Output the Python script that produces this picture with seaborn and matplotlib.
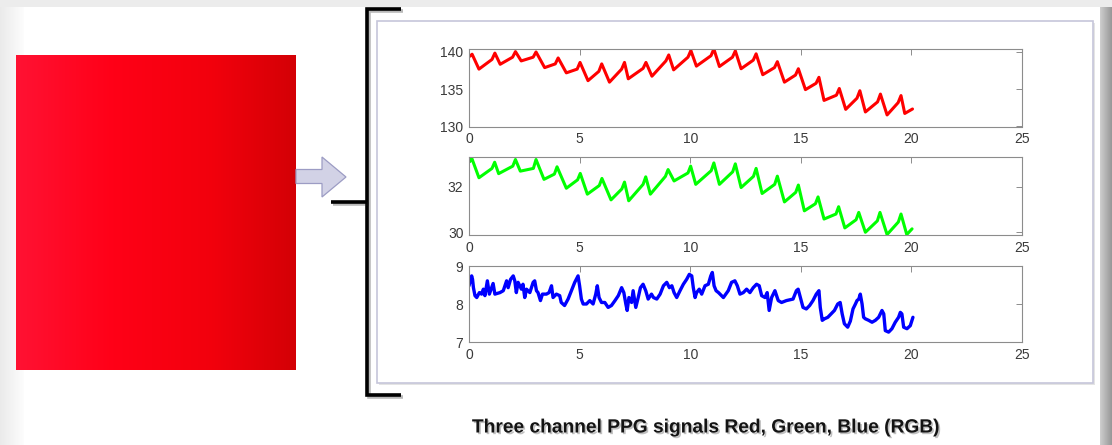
import numpy as np
import matplotlib
matplotlib.use("Agg")
import matplotlib.pyplot as plt
import seaborn as sns
from matplotlib.patches import Polygon, Rectangle
from matplotlib import patheffects as pe

# ---------------- data: three PPG channels (time in s) ----------------
# Red channel: per-beat shoulder (foot of upstroke), systolic peak and trough
red_start = (0.0, 139.4)
red_shoulder_t = [0.05, 1.04, 1.97, 2.90, 3.90, 4.89, 5.87, 6.90, 7.87, 8.90, 9.90,
                  10.94, 11.91, 12.85, 13.81, 14.76, 15.69, 16.61, 17.54, 18.47, 19.40]
red_shoulder_v = [139.45, 139.0, 139.3, 139.3, 138.4, 137.7, 137.4, 137.7, 137.8, 138.8, 139.3,
                  139.5, 139.3, 138.9, 137.9, 136.9, 135.8, 134.2, 133.8, 133.3, 133.2]
red_peak_t = [0.14, 1.17, 2.10, 3.03, 4.03, 5.02, 6.00, 7.03, 8.00, 9.03, 10.03,
              11.07, 12.04, 12.98, 13.94, 14.89, 15.82, 16.74, 17.67, 18.60, 19.53]
red_peak_v = [139.7, 139.85, 140.05, 140.0, 139.2, 138.6, 138.4, 138.6, 138.6, 139.6, 140.2,
              140.4, 140.15, 139.75, 138.7, 137.75, 136.6, 135.1, 134.8, 134.35, 134.15]
red_trough_t = [0.45, 1.41, 2.36, 3.42, 4.40, 5.38, 6.35, 7.20, 8.27, 9.25, 10.28,
                11.32, 12.30, 13.28, 14.26, 15.21, 16.05, 17.03, 17.92, 18.90, 19.70]
red_trough_v = [137.7, 138.35, 138.8, 137.9, 137.2, 136.15, 135.95, 136.4, 136.75, 137.6, 138.1,
                138.05, 137.75, 136.95, 135.95, 134.95, 133.5, 132.3, 131.95, 131.55, 131.75]
red_end = (20.05, 132.35)

# Green channel
green_start = (0.0, 33.1)
green_shoulder_t = [0.04, 1.04, 1.98, 2.91, 3.86, 4.91, 5.89, 6.91, 7.87, 8.88, 9.90,
                    10.95, 11.92, 12.86, 13.82, 14.77, 15.66, 16.59, 17.50, 18.46, 19.41]
green_shoulder_v = [33.1, 32.8, 32.9, 32.8, 32.55, 32.3, 32.05, 31.9, 32.1, 32.45, 32.6,
                    32.7, 32.65, 32.45, 32.1, 31.75, 31.25, 30.8, 30.55, 30.5, 30.45]
green_peak_t = [0.12, 1.16, 2.10, 3.03, 3.98, 5.03, 6.01, 7.03, 7.99, 9.00, 10.02,
                11.07, 12.04, 12.98, 13.94, 14.89, 15.78, 16.71, 17.62, 18.58, 19.53]
green_peak_v = [33.26, 33.07, 33.19, 33.19, 32.87, 32.58, 32.36, 32.2, 32.43, 32.75, 32.9,
                33.04, 33.0, 32.8, 32.46, 32.07, 31.55, 31.12, 30.87, 30.87, 30.8]
green_trough_t = [0.45, 1.34, 2.32, 3.39, 4.40, 5.35, 6.42, 7.22, 8.20, 9.27, 10.25,
                  11.32, 12.30, 13.25, 14.26, 15.16, 16.05, 16.99, 17.92, 18.90, 19.79]
green_trough_v = [32.39, 32.57, 32.68, 32.32, 31.93, 31.67, 31.42, 31.38, 31.67, 32.25, 32.1,
                  32.1, 31.96, 31.7, 31.33, 30.94, 30.58, 30.19, 30.0, 29.9, 29.9]
green_end = (20.03, 30.15)

# Blue channel: traced samples (t, value)
blue_samples = [
    (0.00, 8.48), (0.05, 8.60), (0.12, 8.74), (0.16, 8.65), (0.20, 8.43), (0.27, 8.22),
    (0.35, 8.17), (0.47, 8.30), (0.57, 8.26), (0.65, 8.39), (0.72, 8.22), (0.83, 8.61),
    (0.92, 8.26), (1.02, 8.43), (1.09, 8.54), (1.17, 8.26), (1.40, 8.30), (1.55, 8.35),
    (1.70, 8.61), (1.77, 8.43), (1.88, 8.65), (2.00, 8.74), (2.07, 8.61), (2.14, 8.30),
    (2.22, 8.57), (2.37, 8.39), (2.44, 8.52), (2.52, 8.17), (2.60, 8.39), (2.75, 8.30),
    (2.90, 8.57), (2.97, 8.61), (3.05, 8.35), (3.12, 8.30), (3.23, 8.09), (3.32, 8.26),
    (3.50, 8.26), (3.62, 8.30), (3.73, 8.48), (3.80, 8.17), (3.95, 8.26), (4.10, 8.22),
    (4.17, 8.04), (4.32, 7.96), (4.48, 8.13), (4.63, 8.35), (4.78, 8.57), (4.93, 8.74),
    (5.00, 8.48), (5.08, 8.13), (5.16, 8.00), (5.31, 8.00), (5.46, 8.09), (5.61, 8.00),
    (5.73, 8.26), (5.80, 8.48), (5.88, 8.17), (5.99, 8.04), (6.14, 8.04), (6.29, 7.91),
    (6.44, 7.96), (6.60, 8.09), (6.75, 8.22), (6.90, 8.43), (7.00, 8.30), (7.09, 8.00),
    (7.15, 7.83), (7.23, 8.17), (7.35, 8.04), (7.42, 8.35), (7.54, 7.91), (7.65, 8.17),
    (7.75, 8.43), (7.87, 8.52), (7.99, 8.35), (8.10, 8.13), (8.25, 8.26), (8.34, 8.17),
    (8.49, 8.13), (8.64, 8.26), (8.79, 8.48), (8.94, 8.57), (9.06, 8.43), (9.17, 8.48),
    (9.27, 8.30), (9.39, 8.17), (9.54, 8.35), (9.69, 8.52), (9.84, 8.65), (9.96, 8.78),
    (10.07, 8.74), (10.14, 8.43), (10.22, 8.17), (10.29, 8.30), (10.41, 8.39), (10.52, 8.26),
    (10.67, 8.48), (10.82, 8.52), (10.93, 8.74), (11.00, 8.83), (11.08, 8.48), (11.17, 8.35),
    (11.28, 8.30), (11.50, 8.17), (11.72, 8.35), (11.87, 8.57), (12.02, 8.61), (12.13, 8.48),
    (12.25, 8.26), (12.40, 8.30), (12.55, 8.39), (12.70, 8.30), (12.85, 8.43), (13.00, 8.52),
    (13.12, 8.48), (13.23, 8.22), (13.38, 8.17), (13.48, 8.30), (13.57, 7.83), (13.68, 8.17),
    (13.83, 8.35), (13.98, 8.09), (14.13, 8.04), (14.35, 8.09), (14.65, 8.13), (14.80, 8.35),
    (14.88, 8.39), (14.98, 8.17), (15.10, 7.91), (15.25, 7.87), (15.40, 7.96), (15.55, 8.09),
    (15.70, 8.26), (15.82, 8.35), (15.88, 7.91), (15.97, 7.57), (16.07, 7.61), (16.22, 7.65),
    (16.37, 7.74), (16.52, 7.83), (16.67, 8.00), (16.78, 8.04), (16.87, 7.74), (16.97, 7.48),
    (17.12, 7.39), (17.24, 7.55), (17.36, 7.87), (17.47, 8.00), (17.54, 8.09), (17.62, 8.13),
    (17.69, 8.26), (17.77, 8.00), (17.84, 7.65), (17.92, 7.61), (18.07, 7.57), (18.22, 7.52),
    (18.37, 7.57), (18.52, 7.65), (18.67, 7.83), (18.75, 7.74), (18.82, 7.30), (18.97, 7.26),
    (19.12, 7.35), (19.27, 7.52), (19.42, 7.65), (19.50, 7.78), (19.57, 7.74), (19.65, 7.39),
    (19.80, 7.35), (19.95, 7.43), (20.07, 7.65),
]

x_ticks = [0, 5, 10, 15, 20, 25]
red_yticks = [130, 135, 140]
green_yticks = [30, 32]
blue_yticks = [7, 8, 9]
title_text = "Three channel PPG signals Red, Green, Blue (RGB)"


def beat_trace(start, sh_t, sh_v, pk_t, pk_v, tr_t, tr_v, end):
    """Order shoulder -> peak -> trough for every beat into one polyline."""
    t = np.column_stack([sh_t, pk_t, tr_t]).ravel()
    v = np.column_stack([sh_v, pk_v, tr_v]).ravel()
    t = np.concatenate([[start[0]], t, [end[0]]])
    v = np.concatenate([[start[1]], v, [end[1]]])
    return t, v


red_t, red_v = beat_trace(red_start, red_shoulder_t, red_shoulder_v, red_peak_t,
                          red_peak_v, red_trough_t, red_trough_v, red_end)
green_t, green_v = beat_trace(green_start, green_shoulder_t, green_shoulder_v, green_peak_t,
                              green_peak_v, green_trough_t, green_trough_v, green_end)
blue_t = np.array([s[0] for s in blue_samples])
blue_v = np.array([s[1] for s in blue_samples])

# ---------------- figure ----------------
sns.set_theme(style="white")
plt.rcParams["font.family"] = ["Liberation Sans", "DejaVu Sans"]

W, H = 1112, 445
fig = plt.figure(figsize=(W / 100, H / 100), dpi=100)
fig.patch.set_facecolor("white")

# slide canvas in pixel units
bg = fig.add_axes([0, 0, 1, 1], zorder=0)
bg.set_xlim(0, W)
bg.set_ylim(H, 0)
bg.axis("off")

# slide frame: top strip, left and right shaded edges
bg.add_patch(Rectangle((0, 0), W, 7, color="#ececec", lw=0, zorder=1))
left_grad = np.linspace(0.92, 0.99, 24)[None, :, None] * np.ones((1, 1, 3))
bg.imshow(left_grad, extent=(0, 24, H, 7), aspect="auto", zorder=1)
right_grad = np.linspace(0.80, 0.60, 12)[None, :, None] * np.ones((1, 1, 3))
bg.imshow(right_grad, extent=(1100, W, H, 7), aspect="auto", zorder=1)

# red image tile with horizontal gradient
stops_x = [0.0, 0.35, 0.7, 1.0]
stops_c = np.array([[1.0, 0.07, 0.20], [1.0, 0.0, 0.09], [0.95, 0.0, 0.05], [0.83, 0.0, 0.02]])
xs = np.linspace(0, 1, 280)
tile = np.stack([np.interp(xs, stops_x, stops_c[:, k]) for k in range(3)], axis=-1)[None, :, :]
bg.imshow(tile, extent=(16, 296, 370, 55), aspect="auto", zorder=2, interpolation="bilinear")

# block arrow
arrow = Polygon([(296, 169.5), (322, 169.5), (322, 157), (346, 177), (322, 197),
                 (322, 183.5), (296, 183.5)], closed=True, fc="#d2d2e6", ec="#9c9cc4",
                lw=0.9, zorder=3)
bg.add_patch(arrow)

# figure panel
bg.add_patch(Rectangle((377, 21), 716, 362, fc="white", ec="#c6c6da", lw=1.2, zorder=2,
                       path_effects=[pe.SimplePatchShadow(offset=(1.5, -1.5), alpha=0.15),
                                     pe.Normal()]))

# bracket
shadow = [pe.SimpleLineShadow(offset=(1.5, -1.5), alpha=0.3), pe.Normal()]
bg.plot([401, 367, 367, 401], [9, 9, 395, 395], color="black", lw=2.6,
        solid_joinstyle="miter", solid_capstyle="butt", zorder=4, path_effects=shadow)
bg.plot([331, 367], [202, 202], color="black", lw=2.6, solid_capstyle="butt",
        zorder=4, path_effects=shadow)

# caption
bg.text(705, 428, title_text, ha="center", va="center", fontsize=13.8, fontweight="bold",
        color="#141414", zorder=5,
        path_effects=[pe.withSimplePatchShadow(offset=(1.2, -1.2), alpha=0.25)])


def add_panel(top, bottom, t, v, color, ylim, yticks, lw):
    ax = fig.add_axes([469 / W, 1 - bottom / H, 553 / W, (bottom - top) / H], zorder=3)
    ax.set_facecolor("white")
    sns.lineplot(x=t, y=v, ax=ax, color=color, lw=lw, sort=False, estimator=None,
                 solid_joinstyle="round", solid_capstyle="round")
    ax.set_xlim(0, 25)
    ax.set_ylim(*ylim)
    ax.set_xticks(x_ticks)
    ax.set_yticks(yticks)
    ax.set_xlabel("")
    ax.set_ylabel("")
    ax.grid(False)
    ax.tick_params(direction="in", top=True, right=True, length=4, width=0.7,
                   color="#8c8c8c", labelcolor="#3a3a3a", labelsize=10, pad=4)
    for s in ax.spines.values():
        s.set_visible(True)
        s.set_color("#8c8c8c")
        s.set_linewidth(0.8)
    return ax


add_panel(49, 126.5, red_t, red_v, "#ff0000", (130, 140.4), red_yticks, 2.2)
add_panel(157, 235, green_t, green_v, "#00ff00", (29.88, 33.3), green_yticks, 2.2)
add_panel(266, 342, blue_t, blue_v, "#0000ff", (7, 9), blue_yticks, 2.4)

fig.savefig("out.png", dpi=100, facecolor="white")
